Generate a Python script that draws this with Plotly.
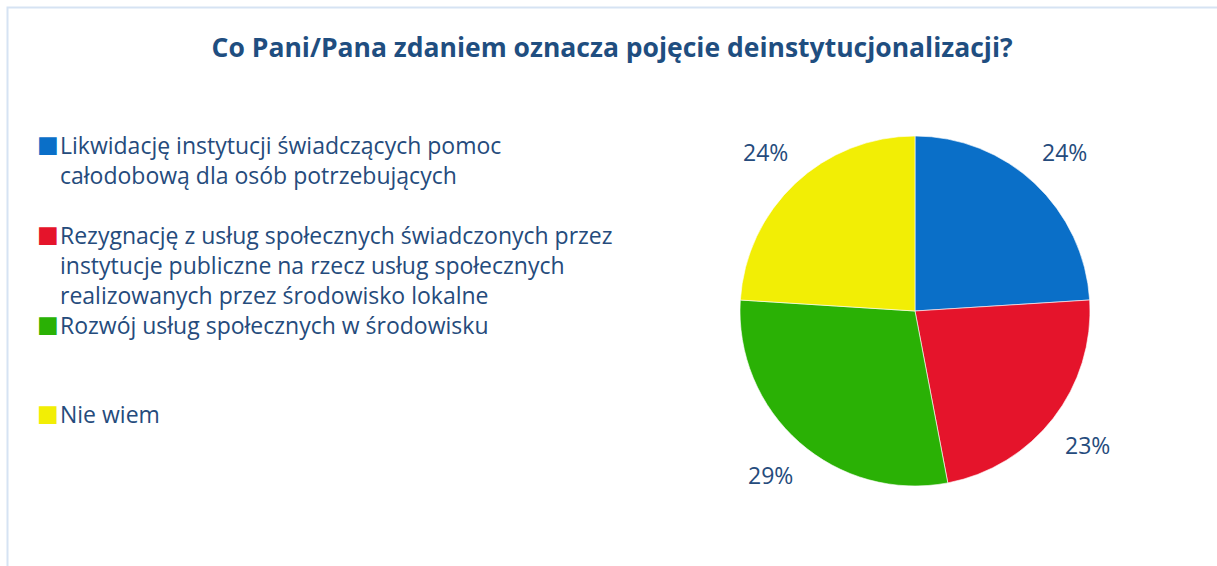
import math
import plotly.graph_objects as go

# ---------------------------------------------------------------------------
# Data
# ---------------------------------------------------------------------------
title = "Co Pani/Pana zdaniem oznacza pojęcie deinstytucjonalizacji?"
categories = [
    "Likwidację instytucji świadczących pomoc<br>całodobową dla osób potrzebujących",
    "Rezygnację z usług społecznych świadczonych przez<br>instytucje publiczne na rzecz usług społecznych<br>realizowanych przez środowisko lokalne",
    "Rozwój usług społecznych w środowisku",
    "Nie wiem",
]
values = [24, 23, 29, 24]
colors = ["#0a6fc8", "#e5142b", "#2ab105", "#f2ee05"]

TEXT = "#254b7c"
FONT = "Open Sans, DejaVu Sans, sans-serif"
W, H = 1217, 566

# pie placement (pixels)
cx, cy, r = 915, 311, 175

fig = go.Figure()
fig.add_trace(go.Pie(
    labels=[c.replace("<br>", " ") for c in categories],
    values=values,
    sort=False,
    direction="clockwise",
    rotation=0,
    marker=dict(colors=colors, line=dict(color="rgba(255,255,255,0.6)", width=1)),
    textinfo="none",
    hoverinfo="label+percent",
    showlegend=False,
    domain=dict(x=[(cx - r) / W, (cx + r) / W], y=[1 - (cy + r) / H, 1 - (cy - r) / H]),
))

# percentage labels outside the slices, placed at the mid-angle of each slice
total = sum(values)
cum = 0
for v in values:
    mid = (cum + v / 2) / total * 2 * math.pi
    cum += v
    px = cx + 1.25 * r * math.sin(mid)
    py = cy - 1.25 * r * math.cos(mid)
    fig.add_annotation(
        x=px / W, y=1 - py / H, xref="paper", yref="paper",
        xanchor="center", yanchor="middle",
        text=f"{round(v / total * 100)}%", showarrow=False,
        font=dict(size=23, color=TEXT, family=FONT),
    )

# legend drawn as annotations (uneven spacing like the source)
legend_top = [144, 234, 324, 413]
for cat, col, ty in zip(categories, colors, legend_top):
    fig.add_annotation(
        x=35 / W, y=1 - ty / H, xref="paper", yref="paper",
        xanchor="left", yanchor="middle", showarrow=False,
        text="■", font=dict(size=23, color=col, family="DejaVu Sans"),
    )
    fig.add_annotation(
        x=58 / W, y=1 - (ty - 17) / H, xref="paper", yref="paper",
        xanchor="left", yanchor="top", align="left", showarrow=False,
        text=cat, font=dict(size=23, color=TEXT, family=FONT),
    )

# light frame around the chart area
fig.add_shape(type="rect", xref="paper", yref="paper",
              x0=7.5 / W, x1=1.01, y0=-0.01, y1=1 - 7.5 / H,
              line=dict(color="#d6e3f3", width=2))

fig.update_layout(
    title=dict(text=f"<b>{title}</b>", x=0.503, xanchor="center", y=1 - 48 / H, yanchor="middle",
               font=dict(size=26.5, color="#1f4e80", family=FONT)),
    width=W, height=H,
    margin=dict(l=0, r=0, t=0, b=0),
    paper_bgcolor="white",
    plot_bgcolor="white",
)

fig.write_html(
    "out.html",
    config={"displayModeBar": False},
    post_script="document.body.style.margin='0';document.body.style.overflow='hidden';",
)
